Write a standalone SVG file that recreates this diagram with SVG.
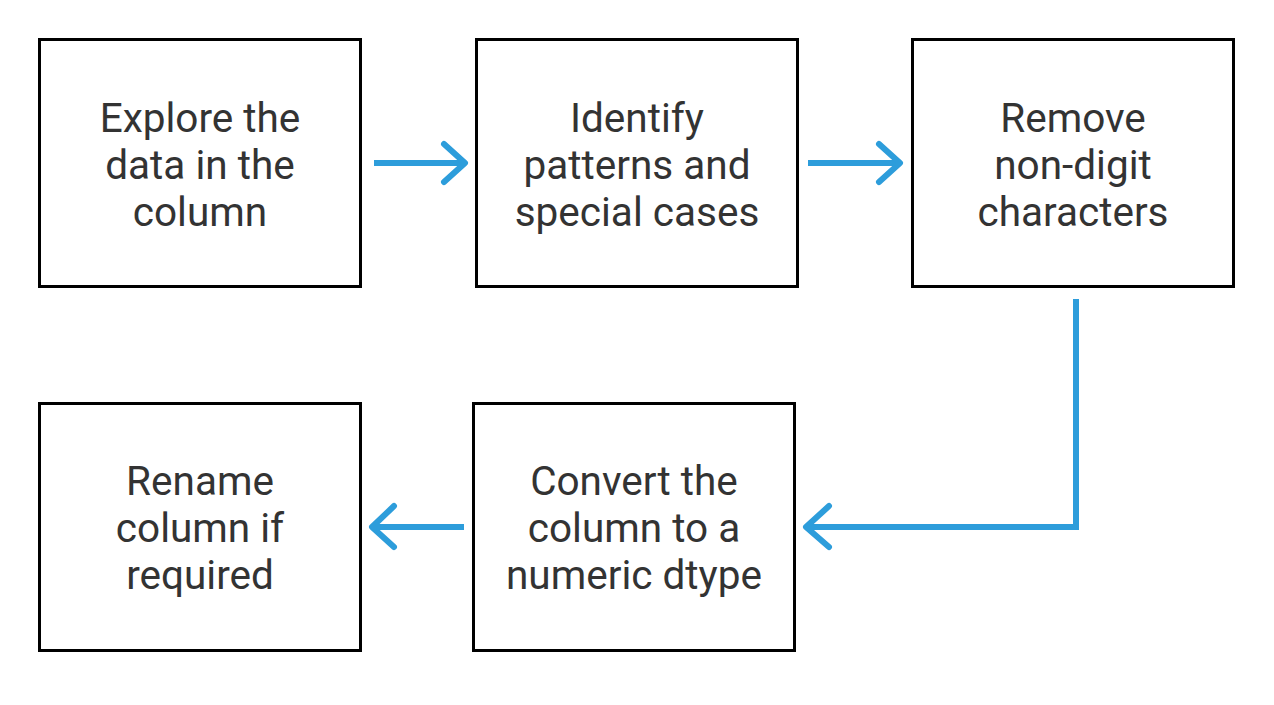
<svg xmlns="http://www.w3.org/2000/svg" width="1274" height="705" viewBox="0 0 1274 705">
<style>
.box{fill:#fff;stroke:#000;stroke-width:3}
.t{font-family:Roboto,"Liberation Sans",sans-serif;font-size:40.5px;font-weight:400;fill:#333;text-anchor:middle}
.c{fill:none;stroke:#2d9ddb;stroke-width:6;stroke-linecap:round;stroke-linejoin:round}
.cl{fill:none;stroke:#2d9ddb;stroke-width:6;stroke-linecap:butt;stroke-linejoin:miter}
</style>
<rect width="1274" height="705" fill="#fff"/>
<g id="n1"><rect class="box" x="39.5" y="39.5" width="321" height="247"/>
<text class="t" x="200" y="132">Explore the</text><text class="t" x="200" y="179">data in the</text><text class="t" x="200" y="226">column</text></g>
<g id="n2"><rect class="box" x="476.5" y="39.5" width="321" height="247"/>
<text class="t" x="637" y="132">Identify</text><text class="t" x="637" y="179">patterns and</text><text class="t" x="637" y="226">special cases</text></g>
<g id="n3"><rect class="box" x="912.5" y="39.5" width="321" height="247"/>
<text class="t" x="1073" y="132">Remove</text><text class="t" x="1073" y="179">non-digit</text><text class="t" x="1073" y="226">characters</text></g>
<g id="n4"><rect class="box" x="39.5" y="403.5" width="321" height="247"/>
<text class="t" x="200" y="495">Rename</text><text class="t" x="200" y="542">column if</text><text class="t" x="200" y="589">required</text></g>
<g id="n5"><rect class="box" x="473.5" y="403.5" width="321" height="247"/>
<text class="t" x="634" y="495">Convert the</text><text class="t" x="634" y="542">column to a</text><text class="t" x="634" y="589">numeric dtype</text></g>
<g id="connectors">
<path class="cl" d="M374 163H463"/><path class="c" d="M444 144L465 163L444 182"/>
<path class="cl" d="M808 163H897"/><path class="c" d="M879 144L900 163L879 182"/>
<path class="cl" d="M1076 299V527H809"/><path class="c" d="M829 506L806 527L829 547"/>
<path class="cl" d="M464 527H375"/><path class="c" d="M394 506L372 527L394 547"/>
</g>
</svg>
